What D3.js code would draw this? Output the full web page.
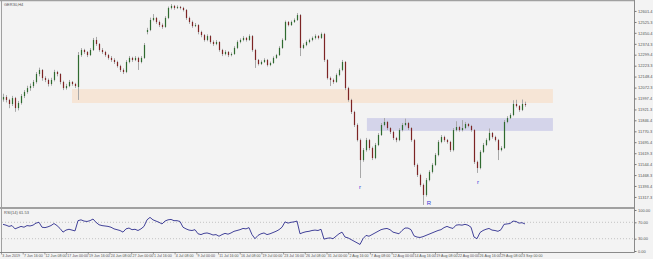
<!DOCTYPE html>
<html><head><meta charset="utf-8">
<script src="https://cdn.jsdelivr.net/npm/d3@7"></script>
<style>html,body{margin:0;padding:0;background:#f3f3f3;overflow:hidden}text{font-family:"Liberation Sans",Arial,sans-serif}</style>
</head><body><svg id="c" width="653" height="259"></svg>
<script>
const opens=[11990,12007,11987,11959,12000,11931,11966,12014,12042,12069,12083,12111,12166,12194,12138,12125,12097,12125,12180,12166,12111,12069,12083,12111,12097,
12076,12297,12332,12318,12297,12332,12401,12373,12332,12318,12297,12277,12263,12249,12221,12194,12180,12249,12277,12263,12277,12249,12277,12456,12470,
12539,12553,12525,12504,12491,12553,12622,12636,12622,12629,12622,12608,12553,12525,12497,12504,12456,12435,12401,12428,12387,12373,12387,12332,12304,
12318,12297,12304,12346,12387,12401,12415,12401,12428,12332,12263,12235,12249,12263,12228,12242,12277,12297,12346,12401,12525,12504,12525,12539,12573,
12346,12366,12387,12401,12415,12428,12415,12442,12263,12138,12125,12111,12159,12194,12249,12069,11987,11904,11814,11710,11572,11641,11710,11655,11586,
11676,11745,11814,11835,11793,11766,11724,11710,11779,11814,11828,11793,11710,11538,11469,11400,11331,11434,11490,11538,11607,11697,11731,11710,11697,
11641,11779,11800,11779,11793,11821,11807,11779,11559,11517,11628,11676,11710,11759,11731,11710,11641,11655,11835,11862,11883,11959,11945,11918,11959];
const highs=[12030,12020,11995,12015,12008,11980,12028,12055,12085,12100,12125,12180,12210,12200,12150,12135,12140,12195,12188,12172,12120,12098,12125,12118,12105,
12318,12345,12340,12325,12345,12415,12422,12380,12345,12326,12305,12290,12275,12258,12230,12205,12262,12290,12285,12290,12285,12290,12380,12485,12555,
12580,12560,12535,12515,12565,12632,12649,12643,12640,12636,12630,12615,12562,12535,12518,12510,12465,12442,12440,12435,12398,12400,12392,12340,12330,
12325,12315,12358,12398,12412,12428,12422,12440,12435,12340,12270,12260,12275,12270,12252,12288,12305,12358,12412,12535,12532,12535,12550,12587,12580,
12378,12398,12410,12425,12440,12435,12452,12450,12270,12148,12135,12170,12205,12263,12256,12078,11995,11912,11825,11720,11655,11725,11718,11665,11690,
11758,11828,11862,11842,11800,11775,11732,11792,11828,11858,11835,11800,11718,11548,11478,11410,11448,11502,11550,11620,11710,11745,11740,11718,11705,
11793,11840,11808,11848,11835,11828,11815,11786,11568,11640,11690,11722,11790,11766,11740,11718,11668,11848,11875,11895,11985,11988,11952,11990,11975];
const lows=[11975,11970,11930,11945,11905,11915,11955,12000,12030,12050,12070,12100,12150,12120,12110,12080,12085,12115,12150,12095,12055,12058,12075,12085,12070,
11987,12285,12305,12283,12290,12325,12360,12320,12305,12285,12265,12250,12235,12210,12180,12166,12172,12240,12250,12255,12194,12240,12270,12440,12462,
12530,12512,12490,12478,12485,12545,12612,12610,12615,12612,12598,12540,12512,12485,12490,12440,12420,12390,12392,12375,12360,12365,12320,12290,12295,
12283,12288,12298,12338,12378,12392,12390,12395,12320,12208,12225,12228,12242,12218,12220,12236,12270,12290,12340,12395,12495,12498,12518,12532,12290,
12338,12358,12378,12392,12405,12405,12408,12250,12128,12083,12098,12105,12150,12185,12055,11975,11890,11800,11700,11448,11560,11630,11640,11572,11578,
11668,11738,11805,11780,11752,11710,11695,11702,11770,11805,11780,11698,11525,11455,11388,11262,11320,11425,11480,11530,11598,11688,11698,11685,11628,
11632,11770,11768,11770,11785,11798,11768,11545,11483,11508,11620,11668,11702,11720,11700,11572,11632,11648,11826,11855,11875,11935,11905,11910,11940];
const closes=[12007,11987,11959,12000,11931,11966,12014,12042,12069,12083,12111,12166,12194,12138,12125,12097,12125,12180,12166,12111,12069,12083,12111,12097,12083,
12297,12332,12318,12297,12332,12401,12373,12332,12318,12297,12277,12263,12249,12221,12194,12180,12249,12277,12263,12277,12249,12277,12366,12470,12539,
12553,12525,12504,12491,12553,12622,12636,12622,12629,12622,12608,12553,12525,12497,12504,12456,12435,12401,12428,12387,12373,12387,12332,12304,12318,
12297,12304,12346,12387,12401,12415,12401,12428,12332,12263,12235,12249,12263,12228,12242,12277,12297,12346,12401,12525,12504,12525,12539,12573,12346,
12366,12387,12401,12415,12428,12415,12442,12263,12138,12125,12111,12159,12194,12249,12069,11987,11904,11814,11710,11572,11641,11710,11655,11586,11676,
11745,11814,11835,11793,11766,11724,11710,11779,11814,11828,11793,11710,11538,11469,11400,11331,11434,11490,11538,11607,11697,11731,11710,11697,11641,
11779,11800,11779,11793,11821,11807,11779,11559,11517,11628,11676,11710,11759,11731,11710,11641,11655,11835,11862,11883,11959,11945,11918,11959,11952];
const rsi=[65,63,60,62,54,57,60,58,62,61,63,68,70,58,57,59,62,67,62,55,46,51,53,51,49,
74,76,73,72,74,78,70,64,62,61,60,58,54,52,50,46,54,56,52,53,50,54,60,76,82,
76,73,70,66,73,76,77,74,74,72,58,54,51,50,52,42,40,43,44,42,39,40,36,40,43,
41,44,48,50,52,55,54,57,40,30,38,42,44,40,42,45,48,52,58,71,68,70,71,73,42,
45,47,48,50,51,50,53,29,31,32,30,36,42,46,34,32,28,24,20,16,30,38,36,40,44,
48,52,54,55,52,46,44,42,50,56,56,52,37,34,33,35,38,41,44,47,50,52,57,60,57,
55,63,64,63,65,63,58,34,30,45,50,53,55,51,50,48,52,65,66,67,73,72,68,69,66];
const priceTicks=[12601.4,12525.3,12450.4,12374.3,12299.4,12223.3,12148.4,12072.3,11997.4,11921.3,11846.4,11770.3,11695.4,11619.3,11544.4,11468.3,11393.4,11317.3];
const rsiTicks=[100,70,30,0];
const rsiLevels=[70,30];
const dateLabels=["3 Jun 2019","7 Jun 16:00","12 Jun 08:00","17 Jun 00:00","19 Jun 16:00","24 Jun 08:00","27 Jun 00:00","1 Jul 16:00","4 Jul 08:00","9 Jul 00:00","11 Jul 16:00","16 Jul 08:00","19 Jul 00:00","23 Jul 16:00","26 Jul 08:00","31 Jul 00:00","2 Aug 16:00","7 Aug 08:00","12 Aug 00:00","14 Aug 16:00","19 Aug 08:00","22 Aug 00:00","26 Aug 16:00","29 Aug 08:00","3 Sep 00:00"];
const zoneStart=[23,121.3];
const zoneEnd=[183.3,183.3];
const zoneLow=[11966,11773];
const zoneHigh=[12062,11862];
const zoneColor=["#f6e5d6","#d4d4ea"];
const markText=["r","R","r"];
const markBar=[119,142,158.3];
const markPrice=[11372,11262,11408];
const title="GER30,H4";
const rsiTitle="RSI(14) 61.53";

const svg=d3.select("#c");
const W=653,H=259, right=634;
const mainTop=1, mainBot=207, rsiTop=209, rsiBot=252;
const x=d3.scaleLinear().domain([0,210.33]).range([3,right]);
const y=d3.scaleLinear().domain([11247.9,12670.1]).range([mainBot,mainTop]);
const yr=d3.scaleLinear().domain([0,100]).range([251,210]);

svg.append("rect").attr("width",W).attr("height",H).attr("fill","#f3f3f3");

const zg=svg.append("g");
zoneStart.forEach((s,k)=>{
  zg.append("rect").attr("x",x(s)).attr("y",y(zoneHigh[k])).attr("width",x(zoneEnd[k])-x(s))
    .attr("height",y(zoneLow[k])-y(zoneHigh[k])).attr("fill",zoneColor[k]);
});

const cg=svg.append("g");
closes.forEach((c,i)=>{
  const o=opens[i], xi=Math.round(x(i))+0.5;
  cg.append("line").attr("x1",xi).attr("x2",xi).attr("y1",y(highs[i])).attr("y2",y(lows[i]))
    .attr("stroke","#a8a8a8").attr("stroke-width",1);
  const t=y(Math.max(o,c)), b=y(Math.min(o,c));
  cg.append("rect").attr("x",xi-0.6).attr("y",t).attr("width",1.2).attr("height",Math.max(0.8,b-t))
    .attr("fill",c>=o?"#2f6a2f":"#7c2424");
});

markText.forEach((m,k)=>{
  svg.append("text").attr("x",x(markBar[k])).attr("y",y(markPrice[k])).attr("text-anchor","middle")
    .attr("font-size",6).attr("fill","#3a3ad8").text(m);
});

const fr="#a0a0a0";
svg.append("line").attr("x1",0).attr("x2",right).attr("y1",0.5).attr("y2",0.5).attr("stroke",fr).attr("stroke-width",1.5);
svg.append("line").attr("x1",1.5).attr("x2",1.5).attr("y1",0).attr("y2",rsiBot).attr("stroke",fr).attr("stroke-width",1);
svg.append("line").attr("x1",0).attr("x2",right).attr("y1",208).attr("y2",208).attr("stroke",fr).attr("stroke-width",2);
svg.append("line").attr("x1",0).attr("x2",right+0.5).attr("y1",rsiBot+0.5).attr("y2",rsiBot+0.5).attr("stroke","#8a8a8a").attr("stroke-width",1);
svg.append("line").attr("x1",right+0.5).attr("x2",right+0.5).attr("y1",0).attr("y2",rsiBot+0.5).attr("stroke","#8a8a8a").attr("stroke-width",1);

const pa=svg.append("g").attr("transform",`translate(${right+0.5},0)`)
  .call(d3.axisRight(y).tickValues(priceTicks).tickSize(2).tickPadding(1.5).tickFormat(d3.format(".1f")));
pa.select(".domain").remove();
pa.selectAll("line").attr("stroke","#777");
pa.selectAll("text").attr("font-size",4).attr("fill","#555").attr("font-family","Liberation Sans, Arial, sans-serif");

const ra=svg.append("g").attr("transform",`translate(${right+0.5},0)`)
  .call(d3.axisRight(yr).tickValues(rsiTicks).tickSize(2).tickPadding(1.5).tickFormat(d3.format(".2f")));
ra.select(".domain").remove();
ra.selectAll("line").attr("stroke","#777");
ra.selectAll("text").attr("font-size",4).attr("fill","#555").attr("font-family","Liberation Sans, Arial, sans-serif");

rsiLevels.forEach(l=>{
  svg.append("line").attr("x1",2).attr("x2",right).attr("y1",yr(l)).attr("y2",yr(l))
    .attr("stroke","#b8b8b8").attr("stroke-width",0.8).attr("stroke-dasharray","1,2");
});

svg.append("path").datum(rsi).attr("fill","none").attr("stroke","#2e2e8e").attr("stroke-width",0.9)
  .attr("d",d3.line().x((d,i)=>x(i)).y(d=>yr(d)));

const dg=svg.append("g");
dateLabels.forEach((t,k)=>{
  const xx=x((k*21.7-2)/3);
  dg.append("line").attr("x1",xx+0.5).attr("x2",xx+0.5).attr("y1",rsiBot).attr("y2",rsiBot+2.5).attr("stroke","#777").attr("stroke-width",0.7);
  dg.append("text").attr("x",xx+1.2).attr("y",257).attr("font-size",3.6).attr("fill","#555").text(t);
});

svg.append("text").attr("x",4).attr("y",6).attr("font-size",4).attr("fill","#555").text(title);
svg.append("text").attr("x",4).attr("y",214).attr("font-size",4).attr("fill","#555").text(rsiTitle);
</script></body></html>
